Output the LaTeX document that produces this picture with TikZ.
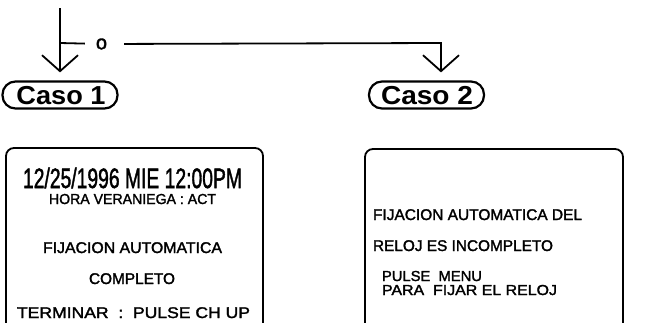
\documentclass[tikz,border=0pt]{standalone}
\usepackage{fontspec}
\usepackage{graphicx}
\setmainfont{Liberation Sans}
\newfontfamily\scan{Liberation Sans}[FakeBold=1.8]
\usetikzlibrary{arrows.meta}
\newcommand\fitw[2]{\resizebox{#1}{\height}{#2}}
\tikzset{
  conn/.style={line width=1.8pt},
  barb/.style={-{Straight Barb[length=16pt,width=36pt,line width=1.8pt]}},
  caso/.style={draw,rectangle,rounded corners=13pt,line width=2.2pt,minimum width=115pt,minimum height=27pt,inner sep=0pt},
  txt/.style={inner sep=0pt,outer sep=0pt},
  scr/.style={line width=1.8pt,rounded corners=8pt},
}
\begin{document}
\begin{tikzpicture}[x=1pt,y=-1pt]
\useasboundingbox (0,0) rectangle (672,322);
% coordinates
\coordinate (top) at (60,8);
\coordinate (j) at (60,43);
\coordinate (corner) at (441,43);
\node[txt] (o) at (101.5,44) {\scan\fontsize{20}{20}\selectfont o};
% case ovals
\node[caso] (c1) at (60,95) {};
\node[txt,anchor=base] (c1t) at (61,104) {\fitw{89pt}{\fontsize{26}{26}\selectfont\bfseries Caso 1}};
\node[caso] (c2) at (426.5,95) {};
\node[txt,anchor=base] (c2t) at (427,104) {\fitw{92pt}{\fontsize{26}{26}\selectfont\bfseries Caso 2}};
% connectors
\draw[conn,barb,shorten >=8pt] (top) -- (top |- c1.north);
\draw[conn,shorten >=11pt] (j) -- (o);
\draw[conn,shorten <=17pt,barb,shorten >=8pt] (o) -- (corner) -- (corner |- c2.north);
% screens
\draw[scr] (6,323) -- (6,148) -- (263,148) -- (263,323);
\draw[scr] (365,323) -- (365,149) -- (623,149) -- (623,323);
% left screen texts
\node[txt,anchor=base] (l1) at (132.5,188) {\fitw{219pt}{\scan\fontsize{28}{28}\selectfont 12/25/1996 MIE 12:00PM}};
\node[txt,anchor=base] (l2) at (132.5,204) {\fitw{167pt}{\scan\fontsize{14.5}{14.5}\selectfont HORA VERANIEGA : ACT}};
\node[txt,anchor=base] (l3) at (132.5,253) {\fitw{179pt}{\scan\fontsize{15.5}{15.5}\selectfont FIJACION AUTOMATICA}};
\node[txt,anchor=base] (l4) at (132,284) {\fitw{86pt}{\scan\fontsize{15.5}{15.5}\selectfont COMPLETO}};
\node[txt,anchor=base] (l5) at (133.5,318) {\fitw{233pt}{\scan\fontsize{15.5}{15.5}\selectfont TERMINAR\ \ :\ \ PULSE CH UP}};
% right screen texts
\node[txt,anchor=base west] (r1) at (373,220) {\fitw{209pt}{\scan\fontsize{15.5}{15.5}\selectfont FIJACION\ AUTOMATICA\ DEL}};
\node[txt,anchor=base west] (r2) at (373,251) {\fitw{180pt}{\scan\fontsize{15.5}{15.5}\selectfont RELOJ\ ES\ INCOMPLETO}};
\node[txt,anchor=base west] (r3) at (382,281) {\fitw{100pt}{\scan\fontsize{14.5}{14.5}\selectfont PULSE\ \ MENU}};
\node[txt,anchor=base west] (r4) at (382,295) {\fitw{175pt}{\scan\fontsize{14.5}{14.5}\selectfont PARA\ \ FIJAR\ EL\ RELOJ}};
\end{tikzpicture}
\end{document}
